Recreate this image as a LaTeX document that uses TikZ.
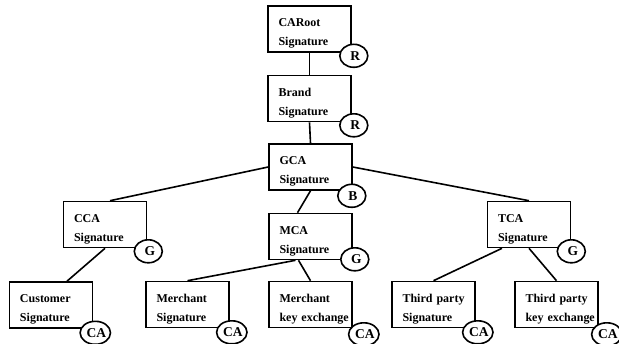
\documentclass[tikz,border=0pt]{standalone}
\usepackage{fontspec}
\setmainfont{Liberation Serif}
\usetikzlibrary{shapes.geometric,calc}
\tikzset{
  cabox/.style={draw, line width=1.6pt, rectangle, minimum width=83pt, minimum height=46pt,
    text width=78pt, inner xsep=2.5pt, inner ysep=0pt, align=left,
    font=\fontsize{12}{19}\selectfont\bfseries},
  sig/.style={draw, line width=1.6pt, ellipse, fill=white, minimum width=28pt, minimum height=23pt,
    inner sep=0pt, font=\fontsize{13.5}{13.5}\selectfont\bfseries},
  link/.style={line width=1.6pt}
}
\newcommand{\tl}[2]{\rule{0pt}{17pt}\hspace*{8pt}#1\\\hspace*{8pt}#2}
\begin{document}
\begin{tikzpicture}[x=1pt,y=-1pt]
\useasboundingbox (0,0) rectangle (619,343);
\node[cabox] (caroot) at (309.5,29) {\tl{CARoot}{Signature}};
\node[cabox] (brand) at (309.5,98.5) {\tl{Brand}{Signature}};
\node[cabox] (gca) at (310.5,167) {\tl{GCA}{Signature}};
\node[cabox] (cca) at (105,224.5) {\tl{CCA}{Signature}};
\node[cabox] (mca) at (310.5,236.5) {\tl{MCA}{Signature}};
\node[cabox] (tca) at (529,224.5) {\tl{TCA}{Signature}};
\node[cabox] (cust) at (51,305) {\tl{Customer}{Signature}};
\node[cabox] (msig) at (187.5,304.5) {\tl{Merchant}{Signature}};
\node[cabox] (mkey) at (310.5,304.5) {\tl{Merchant}{key exchange}};
\node[cabox] (tsig) at (433.5,304.5) {\tl{Third party}{Signature}};
\node[cabox] (tkey) at (556.5,304.5) {\tl{Third party}{key exchange}};

\draw[link] (caroot.south) -- (brand.north);
\draw[link] (brand.south) -- (gca.north);
\draw[link] (gca.west) -- ($(cca.north)+(5,0)$);
\draw[link] (gca.east) -- (tca.north);
\draw[link] (gca.south) -- ($(mca.north)+(-13,0)$);
\draw[link] (cca.south) -- ($(cust.north)+(16,0)$);
\draw[link] ($(mca.south)+(-15,0)$) -- (msig.north);
\draw[link] ($(mca.south)+(-12,0)$) -- (mkey.north);
\draw[link] ($(tca.south)+(-27,0)$) -- (tsig.north);
\draw[link] (tca.south) -- (tkey.north);

\node[sig] (caroot-c) at ($(caroot.south east)+(2,3)$) {\raisebox{-3pt}{\hspace{3pt}R}};
\node[sig] (brand-c) at ($(brand.south east)+(2,3)$) {\raisebox{-3pt}{\hspace{3pt}R}};
\node[sig] (gca-c) at ($(gca.south east)+(-1,5)$) {\raisebox{-3pt}{\hspace{2pt}B}};
\node[sig] (cca-c) at ($(cca.south east)+(1,3)$) {\raisebox{-3pt}{\hspace{3pt}G}};
\node[sig] (mca-c) at ($(mca.south east)+(2,-1)$) {\raisebox{-3pt}{\hspace{3pt}G}};
\node[sig] (tca-c) at ($(tca.south east)+(0,3)$) {\raisebox{-3pt}{\hspace{3pt}G}};
\node[sig] (cust-c) at ($(cust.south east)+(2,4)$) {\raisebox{-3pt}{\hspace{2pt}CA}};
\node[sig] (msig-c) at ($(msig.south east)+(2,4)$) {\raisebox{-3pt}{\hspace{2pt}CA}};
\node[sig] (mkey-c) at ($(mkey.south east)+(11,6)$) {\raisebox{-3pt}{\hspace{2pt}CA}};
\node[sig] (tsig-c) at ($(tsig.south east)+(2,4)$) {\raisebox{-3pt}{\hspace{2pt}CA}};
\node[sig] (tkey-c) at ($(tkey.south east)+(8,6)$) {\raisebox{-3pt}{\hspace{2pt}CA}};
\end{tikzpicture}
\end{document}
